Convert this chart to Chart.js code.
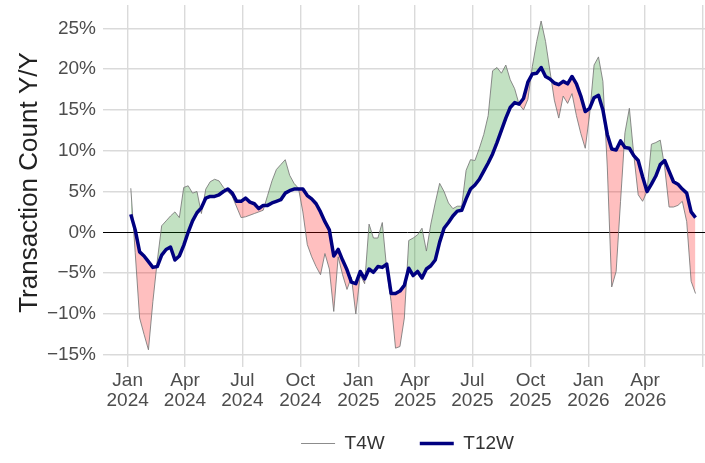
<!DOCTYPE html>
<html>
<head>
<meta charset="utf-8">
<script src="https://cdn.jsdelivr.net/npm/chart.js@4.4.1/dist/chart.umd.min.js"></script>
<style>
  html, body { margin: 0; padding: 0; background: #fff; }
  #wrap { width: 705px; height: 463px; }
</style>
</head>
<body>
<div id="wrap"><canvas id="txChart"></canvas></div>
<script>
// weekly series, first week ending 2024-01-06
const firstWeek = '2024-01-06';
const t4w = [
  5.4, -2.5, -10.5, -12.5, -14.4, -8.5, -3.5, 0.8, 1.4, 2.0,
  2.5, 1.8, 5.5, 5.7, 4.8, 5.0, 2.3, 5.3, 6.2, 6.5,
  6.3, 5.5, 5.0, 4.4, 3.1, 1.8, 1.9, 2.1, 2.3, 2.5,
  2.7, 4.5, 6.3, 7.7, 8.3, 8.9, 7.0, 6.0, 5.4, 2.5,
  -1.5, -3.0, -4.2, -5.2, -2.6, -4.5, -9.7, -3.0, -5.2, -7.0,
  -5.5, -10.0, -5.2, -6.3, 1.0, -0.7, -0.7, 1.2, -4.5, -8.5,
  -14.2, -14.0, -10.5, -1.0, -0.7, -0.3, 0.5, -2.3, 1.0, 3.6,
  6.0, 5.0, 3.6, 2.9, 3.2, 3.2, 7.6, 8.9, 8.8, 10.3,
  12.0, 14.3, 19.8, 20.2, 19.5, 20.5, 18.7, 17.6, 15.7, 15.0,
  16.3, 20.3, 23.4, 25.9, 23.4, 19.8, 16.2, 14.0, 16.7, 15.8,
  17.0, 14.3, 12.1, 10.3, 14.5, 20.5, 21.5, 18.5, 8.0, -6.7,
  -4.8, 3.8, 12.2, 15.2, 9.5, 4.6, 3.8, 5.0, 10.8, 11.0,
  11.3, 8.0, 3.1, 3.1, 3.3, 3.8, 1.3, -6.0, -7.5
];
const t12w = [
  2.2, 0.3, -2.4, -2.9, -3.6, -4.3, -4.2, -2.8, -2.1, -1.8,
  -3.4, -2.9, -1.6, 0.0, 1.4, 2.4, 3.0, 4.2, 4.4, 4.4,
  4.6, 5.0, 5.3, 4.8, 3.8, 3.8, 4.2, 3.7, 3.5, 2.9,
  3.3, 3.3, 3.6, 3.8, 4.0, 4.8, 5.1, 5.3, 5.3, 5.3,
  4.5, 4.1, 3.5, 2.5, 1.3, 0.3, -2.9, -2.1, -3.4, -4.6,
  -6.1, -6.3, -4.8, -5.7, -4.5, -4.9, -4.2, -4.3, -3.9, -7.5,
  -7.5, -7.2, -6.5, -4.4, -5.3, -4.8, -5.6, -4.5, -4.1, -3.4,
  -1.2, 0.5, 1.2, 2.0, 2.6, 2.7, 4.1, 5.3, 5.8, 6.5,
  7.5, 8.5, 9.6, 11.0, 12.5, 14.0, 15.3, 15.9, 15.7, 16.4,
  18.4, 19.4, 19.5, 20.2, 19.1, 18.8, 18.3, 18.1, 18.5, 18.2,
  19.1, 18.2, 16.7, 14.8, 15.2, 16.5, 16.8, 15.0, 12.0, 10.2,
  10.1, 11.2, 10.4, 10.3, 9.4, 8.8, 6.8, 5.0, 5.9, 6.9,
  8.3, 8.8, 7.5, 6.2, 5.9, 5.3, 4.8, 2.5, 1.8
];
const quarterDates = ['2024-01-01', '2024-04-01', '2024-07-01', '2024-10-01', '2025-01-01',
  '2025-04-01', '2025-07-01', '2025-10-01', '2026-01-01', '2026-04-01', '2026-07-01'];
const quarterLabels = [['Jan', '2024'], ['Apr', '2024'], ['Jul', '2024'], ['Oct', '2024'], ['Jan', '2025'],
  ['Apr', '2025'], ['Jul', '2025'], ['Oct', '2025'], ['Jan', '2026'], ['Apr', '2026'], ''];
const yTicks = [-15, -10, -5, 0, 5, 10, 15, 20, 25];

const DAY = 86400000;
const origin = Date.parse('2024-01-01');
const dayOf = d => Math.round((Date.parse(d) - origin) / DAY);
const weekX = i => dayOf(firstWeek) + 7 * i;
const quarterX = quarterDates.map(dayOf);

const ink = '#4d4d4d';
const gridCol = '#dadada';

new Chart(document.getElementById('txChart'), {
  type: 'line',
  data: {
    datasets: [{
      label: 'T4W',
      data: t4w.map((v, i) => ({ x: weekX(i), y: v })),
      borderColor: 'rgba(120,120,120,0.85)',
      borderWidth: 1,
      pointRadius: 0,
      tension: 0,
      order: 1,
      fill: { target: 1, above: 'rgba(0,128,0,0.24)', below: 'rgba(255,0,0,0.25)' }
    }, {
      label: 'T12W',
      data: t12w.map((v, i) => ({ x: weekX(i), y: v })),
      borderColor: '#000080',
      borderWidth: 3.5,
      pointRadius: 0,
      tension: 0,
      order: 0,
      fill: false
    }]
  },
  options: {
    responsive: true,
    maintainAspectRatio: false,
    animation: false,
    layout: { padding: { left: 0, right: 0, top: 5, bottom: 0 } },
    scales: {
      x: {
        type: 'linear',
        min: -28,
        max: 916,
        afterBuildTicks: scale => { scale.ticks = quarterX.map(v => ({ value: v })); },
        afterFit: scale => { scale.height = 60; scale.paddingLeft = 0; scale.paddingRight = 0; },
        border: { display: false },
        grid: { color: gridCol, lineWidth: 1.4, tickLength: 7 },
        ticks: {
          color: ink,
          font: { family: 'Liberation Sans', size: 19, lineHeight: 1.05 },
          padding: 4,
          maxRotation: 0,
          autoSkip: false,
          callback: v => quarterLabels[quarterX.indexOf(v)]
        }
      },
      y: {
        min: -15.65,
        max: 27.86,
        afterBuildTicks: scale => { scale.ticks = yTicks.map(v => ({ value: v })); },
        afterFit: scale => { scale.width = 110; scale.paddingTop = 0; scale.paddingBottom = 0; },
        border: { display: false },
        grid: {
          color: c => c.tick && c.tick.value === 0 ? '#000' : gridCol,
          lineWidth: c => c.tick && c.tick.value === 0 ? 1 : 1.4,
          tickLength: 7
        },
        ticks: {
          color: ink,
          font: { family: 'Liberation Sans', size: 19 },
          padding: 7,
          callback: v => (v < 0 ? '\u2212' + Math.abs(v) : v) + '%'
        },
        title: {
          display: true,
          text: 'Transaction Count Y/Y',
          color: '#222',
          font: { family: 'Liberation Sans', size: 26 },
          padding: { top: 14, bottom: 0 }
        }
      }
    },
    plugins: {
      legend: {
        position: 'bottom',
        fullSize: false,
        labels: {
          color: '#333',
          font: { family: 'Liberation Sans', size: 19 },
          usePointStyle: true,
          pointStyle: 'line',
          pointStyleWidth: 34,
          padding: 14,
          sort: (a, b) => a.datasetIndex - b.datasetIndex,
          generateLabels: chart => {
            const items = Chart.defaults.plugins.legend.labels.generateLabels(chart);
            // extra room between the two entries
            items.forEach(it => { if (it.datasetIndex === 0) it.text = it.text + '    '; });
            return items;
          }
        }
      },
      tooltip: { enabled: false }
    },
    elements: { line: { borderJoinStyle: 'round' } }
  }
});
</script>
</body>
</html>
